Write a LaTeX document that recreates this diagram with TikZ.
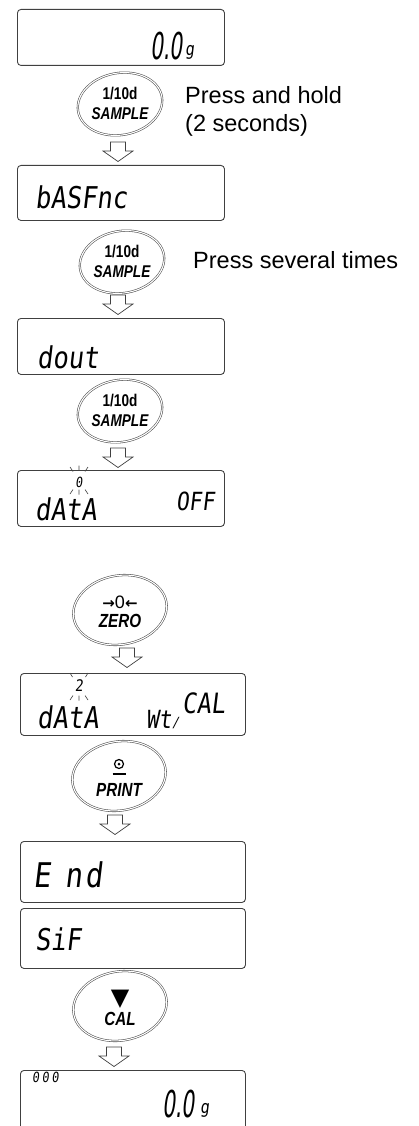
\documentclass[tikz,border=0pt]{standalone}
\usepackage{fontspec}
\setmainfont{Liberation Sans}
\newfontfamily\segfont[FakeStretch=0.85,FakeSlant=0.12]{DejaVu Sans Mono}
\newfontfamily\segnarrow[FakeStretch=0.55,FakeSlant=0.12]{DejaVu Sans}
\newfontfamily\btnfont[FakeStretch=0.8]{Liberation Sans}
\newfontfamily\symfont{DejaVu Sans}
\usetikzlibrary{shapes.geometric,calc}
\tikzset{
  disp/.style={draw=black!75, line width=0.9pt, rounded corners=3.5pt, anchor=north west, inner sep=0pt, minimum width=207pt},
  dispwide/.style={disp, minimum width=225pt},
  btn/.style={ellipse, draw=black!70, double=white, double distance=1.1pt, line width=0.55pt, minimum width=85pt, minimum height=62pt, inner sep=0pt, rotate=10},
  btnbig/.style={btn, minimum height=69pt, minimum width=94pt},
  btntop/.style={font=\btnfont\bfseries\fontsize{17}{17}\selectfont, inner sep=0pt},
  btnbot/.style={font=\btnfont\bfseries\itshape\fontsize{17}{17}\selectfont, inner sep=0pt},
  btnbotbig/.style={font=\btnfont\bfseries\itshape\fontsize{19}{19}\selectfont, inner sep=0pt},
  seg/.style={font=\segfont\fontsize{30}{30}\selectfont, inner sep=0pt, anchor=base west},
  segbig/.style={font=\segnarrow\fontsize{37}{37}\selectfont, inner sep=0pt, anchor=base west},
  segsmall/.style={font=\segfont\fontsize{14}{14}\selectfont, inner sep=0pt},
  lbl/.style={font=\fontsize{23.5}{28}\selectfont, inner sep=0pt, anchor=west},
  harrow/.style={draw=black!75, line width=0.7pt, fill=white, line join=miter},
  tick/.style={draw=black!75, line width=0.6pt},
}
\newcommand\holarrow[3]{%
  \coordinate (#1) at (#2,#3);
  \draw[harrow, shift={(#1)}] (-7.5,0) -- (7.5,0) -- (7.5,9) -- (15,9) -- (0,19.5) -- (-15,9) -- (-7.5,9) -- cycle;
}
\begin{document}
\begin{tikzpicture}[x=1pt,y=-1pt]
\useasboundingbox (0,0) rectangle (419,1126);

% display 1
\node[disp, minimum height=56pt] (d1) at (17,9) {};
\node[segbig] (d1n) at (150,60) {0.0};
\node[seg, font=\segfont\fontsize{18}{18}\selectfont] (d1g) at (185,56) {g};

% button 1
\node[btn] (b1) at (120,104) {};
\node[btntop] (b1t) at ($(b1.center)+(0,-10)$) {1/10d};
\node[btnbot] (b1b) at ($(b1.center)+(0,10)$) {SAMPLE};
\node[lbl] (l1) at (185,95) {Press and hold};
\node[lbl] (l2) at (185,125) {(2 seconds)};
\holarrow{a1}{118}{142}

% display 2
\node[disp, minimum height=55pt] (d2) at (17,165) {};
\node[seg] (d2t) at (35,208) {bASFnc};

% button 2
\node[btn] (b2) at (122,262) {};
\node[btntop] (b2t) at ($(b2.center)+(0,-10)$) {1/10d};
\node[btnbot] (b2b) at ($(b2.center)+(0,10)$) {SAMPLE};
\node[lbl] (l3) at (193,260) {Press several times};
\holarrow{a2}{118}{295}

% display 3
\node[disp, minimum height=56pt] (d3) at (17,318) {};
\node[seg] (d3t) at (37,368) {dout};

% button 3
\node[btn] (b3) at (120,411) {};
\node[btntop] (b3t) at ($(b3.center)+(0,-10)$) {1/10d};
\node[btnbot] (b3b) at ($(b3.center)+(0,10)$) {SAMPLE};
\holarrow{a3}{118}{448}

% display 4
\node[disp, minimum height=56pt] (d4) at (17,470) {};
\node[segsmall] (d4s) at (79,482) {0};
\draw[tick] (70,467) -- (73,471.5) (79,465.5) -- (79,470.5) (88,467) -- (85,471.5);
\draw[tick] (70,494) -- (73,489.5) (79,489.5) -- (79,494.5) (88,494) -- (85,489.5);
\node[seg] (d4t) at (35,520) {dAtA};
\node[seg, font=\segfont\fontsize{25}{25}\selectfont] (d4o) at (176,510) {OFF};

% ZERO button
\node[btnbig] (b4) at (120,610) {};
\node[inner sep=0pt] (b4t) at ($(b4.center)+(0,-8)$) {{\symfont\bfseries\fontsize{15}{15}\selectfont →}{\fontsize{18}{18}\selectfont 0}{\symfont\bfseries\fontsize{15}{15}\selectfont ←}};
\node[btnbotbig] (b4b) at ($(b4.center)+(0,11)$) {ZERO};
\holarrow{a4}{127}{648}

% display 5
\node[dispwide, minimum height=62pt] (d5) at (20,673) {};
\node[segsmall, font=\segfont\fontsize{16}{16}\selectfont] (d5s) at (79,686) {2};
\draw[tick] (70,673) -- (72.5,677) (88,673) -- (85.5,677);
\draw[tick] (70,700) -- (73,695.5) (79,695.5) -- (79,700.5) (88,700) -- (85,695.5);
\node[seg] (d5t) at (37,728) {dAtA};
\node[seg, font=\segfont\fontsize{25}{25}\selectfont] (d5w) at (146,728) {Wt};
\node[seg, font=\segfont\fontsize{14}{14}\selectfont] (d5sl) at (172,727) {/};
\node[seg, font=\segfont\fontsize{28}{28}\selectfont] (d5c) at (182,713) {CAL};

% PRINT button
\node[btnbig] (b5) at (119,776) {};
\draw[line width=1.2pt] ($(b5.center)+(0,-12)$) circle[radius=4.5];
\fill ($(b5.center)+(0,-12)$) circle[radius=1.5];
\draw[line width=2pt] ($(b5.center)+(-6.5,-2.5)$) -- ($(b5.center)+(6.5,-2.5)$);
\node[btnbotbig] (b5b) at ($(b5.center)+(0,14)$) {PRINT};
\holarrow{a5}{115}{815}

% display 6
\node[dispwide, minimum height=61pt] (d6) at (20,841) {};
\node[seg, font=\segfont\fontsize{34}{34}\selectfont] (d6t) at (33,887) {E\kern14pt n\kern3pt d};

% display 7
\node[dispwide, minimum height=60pt] (d7) at (20,908) {};
\node[seg] (d7t) at (35,950) {SiF};

% CAL button
\node[btnbig] (b6) at (120,1006) {};
\node[inner sep=0pt, font=\symfont\fontsize{24}{24}\selectfont] (b6t) at ($(b6.center)+(0,-7)$) {▼};
\node[btnbotbig] (b6b) at ($(b6.center)+(0,13)$) {CAL};
\holarrow{a6}{114}{1047}

% display 8
\node[dispwide, minimum height=64pt] (d8) at (20,1070) {};
\node[seg, font=\segfont\fontsize{14}{14}\selectfont] (d8s) at (32,1082) {0\kern2.5pt 0\kern2.5pt 0};
\node[segbig] (d8n) at (162,1117) {0.0};
\node[seg, font=\segfont\fontsize{18}{18}\selectfont] (d8g) at (200,1113) {g};
\end{tikzpicture}
\end{document}
